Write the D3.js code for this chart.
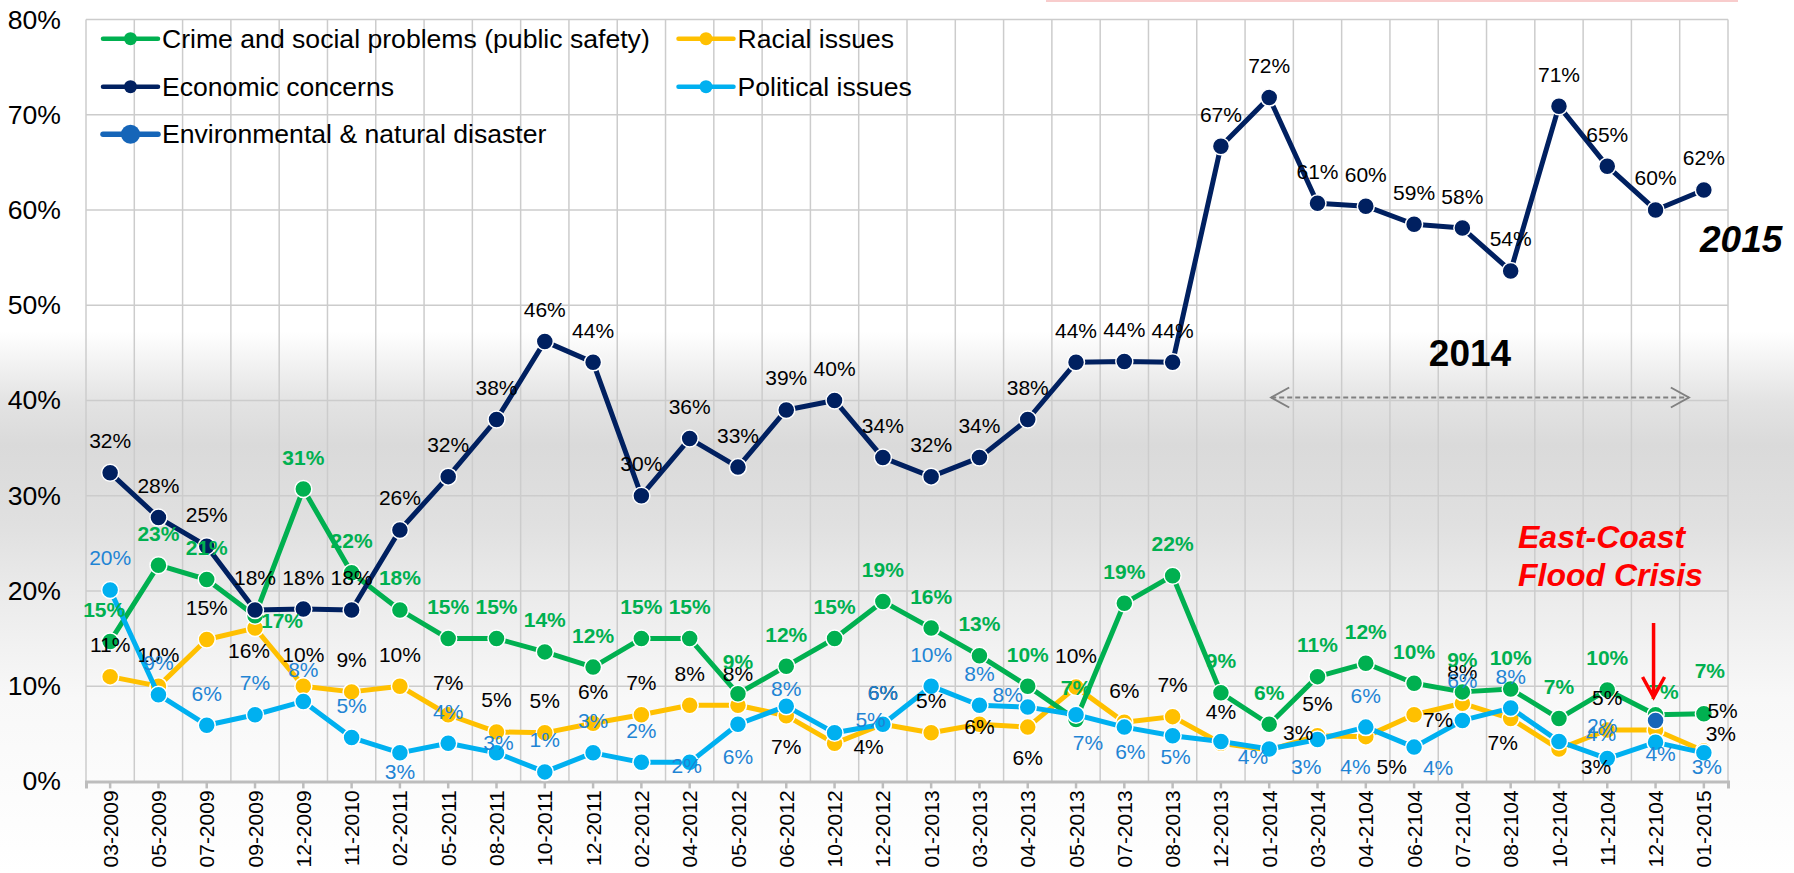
<!DOCTYPE html>
<html>
<head>
<meta charset="utf-8">
<style>
  body { margin: 0; background: #fff; }
  svg { display: block; font-family: "Liberation Sans", Arial, sans-serif; }
</style>
</head>
<body>
<svg id="chart" width="1794" height="873"></svg>

<script src="https://cdn.jsdelivr.net/npm/d3@7"></script>
<script>
  // survey waves
  const categories = ["03-2009", "05-2009", "07-2009", "09-2009", "12-2009", "11-2010", "02-2011", "05-2011",
    "08-2011", "10-2011", "12-2011", "02-2012", "04-2012", "05-2012", "06-2012", "10-2012", "12-2012",
    "01-2013", "03-2013", "04-2013", "05-2013", "07-2013", "08-2013", "12-2013", "01-2014", "03-2014",
    "04-2104", "06-2104", "07-2104", "08-2104", "10-2104", "11-2104", "12-2104", "01-2015"];

  // % of mentions
  const crime = [14.7, 22.7, 21.2, 17.4, 30.7, 21.9, 18, 15, 15, 13.6, 12, 15, 15, 9.2, 12.1, 15, 18.9,
    16.1, 13.2, 10, 6.5, 18.7, 21.6, 9.3, 6, 11, 12.4, 10.3, 9.4, 9.7, 6.6, 9.6, 7, 7.1];
  const economic = [32.4, 27.7, 24.7, 18, 18.1, 18, 26.4, 32, 38, 46.2, 44, 30, 36, 33, 39, 40, 34,
    32, 34, 38, 44, 44.1, 44, 66.7, 71.8, 60.7, 60.4, 58.5, 58.1, 53.6, 70.9, 64.6, 60, 62.1];
  const racial = [11, 10, 14.9, 16.1, 10, 9.4, 10, 7, 5.2, 5.1, 6.1, 7, 8, 8, 6.9, 4, 6,
    5.1, 6, 5.7, 9.9, 6.2, 6.8, 4, 3.3, 4.8, 4.7, 7, 8.2, 6.6, 3.4, 5.4, 5.4, 3.2];
  const political = [20.1, 9.1, 5.9, 7, 8.4, 4.6, 3, 4, 3, 1, 3, 2, 2, 6, 7.9, 5.1, 6,
    10, 8, 7.8, 7, 5.7, 4.8, 4.2, 3.4, 4.4, 5.7, 3.6, 6.4, 7.7, 4.2, 2.4, 4.1, 3];
  const environment = [null, null, null, null, null, null, null, null, null, null, null, null, null,
    null, null, null, null, null, null, null, null, null, null, null, null, null, null, null, null,
    null, null, null, 6.4, null];

  const yTicks = [0, 10, 20, 30, 40, 50, 60, 70, 80];

  // hand-placed data labels (dx, dy from the marker), like the dragged labels in the original
  const nudges = {
    crime: { 0: [-6, -32], 3: [27, 5], 32: [8, -23], 33: [6, -43] },
    racial: { 3: [-6, 22], 14: [0, 31], 15: [34, 3], 18: [0, 2], 19: [0, 30], 24: [29, -17],
      26: [26, 30], 27: [24, 5], 29: [-8, 24], 30: [37, 17], 32: [67, -19], 33: [17, -17] },
    political: { 6: [0, 19], 8: [2, -10], 12: [-3, 3], 13: [0, 32], 14: [0, -18], 15: [36, -13],
      19: [-20, -13], 20: [12, 28], 21: [6, 24], 22: [3, 21], 23: [32, 15], 24: [37, 17],
      25: [38, 27], 27: [24, 20], 28: [0, -40], 30: [42, -8], 31: [-5, -33], 32: [5, 11], 33: [3, 14] },
    economic: {}
  };

  const width = 1794;
  const height = 873;
  const plotLeft = 86, plotRight = 1728, plotTop = 19.5, plotBottom = 781.4;

  const svg = d3.select("#chart");

  // background band
  const grad = svg.append("defs").append("linearGradient")
    .attr("id", "bg").attr("x1", 0).attr("y1", 0).attr("x2", 0).attr("y2", 1);
  [[0, "#ffffff"], [0.38, "#ffffff"], [0.46, "#e3e3e3"], [0.51, "#dadada"], [0.6, "#e0e0e0"],
   [0.69, "#ececec"], [0.8, "#f8f8f8"], [1, "#ffffff"]].forEach(s => {
    grad.append("stop").attr("offset", s[0]).attr("stop-color", s[1]);
  });
  svg.append("rect").attr("width", width).attr("height", height).attr("fill", "url(#bg)");
  svg.append("rect").attr("x", 1046).attr("y", 0).attr("width", 692).attr("height", 2).attr("fill", "#f8cccc");

  const x = d3.scaleBand().domain(categories).range([plotLeft, plotRight]).padding(0);
  const cx = c => x(c) + x.bandwidth() / 2;
  const y = d3.scaleLinear().domain([0, 80]).range([plotBottom, plotTop]);

  // grid
  const grid = svg.append("g").attr("stroke", "#cccccc").attr("stroke-width", 1.5);
  grid.selectAll("line.h")
    .data(yTicks.filter(d => d > 0))
    .join("line")
    .attr("class", "h")
    .attr("x1", plotLeft).attr("x2", plotRight)
    .attr("y1", d => y(d)).attr("y2", d => y(d));
  grid.selectAll("line.v")
    .data(categories.map(c => x(c)).concat([plotRight]))
    .join("line")
    .attr("class", "v")
    .attr("x1", d => d).attr("x2", d => d)
    .attr("y1", plotTop).attr("y2", plotBottom);

  // y axis labels
  const yAxis = svg.append("g")
    .attr("transform", `translate(${plotLeft},0)`)
    .call(d3.axisLeft(y).tickValues(yTicks).tickFormat(d => d + "%").tickSize(0).tickPadding(25));
  yAxis.select(".domain").remove();
  yAxis.selectAll("text").attr("font-size", 26.6).attr("fill", "#000").attr("font-family", null);

  // x axis
  const xAxis = svg.append("g")
    .attr("transform", `translate(0,${plotBottom})`)
    .call(d3.axisBottom(x).tickSize(7).tickSizeOuter(7));
  xAxis.select(".domain").attr("stroke", "#bdbdbd").attr("stroke-width", 3);
  xAxis.selectAll(".tick line").attr("stroke", "#bdbdbd").attr("stroke-width", 2.5);
  xAxis.selectAll(".tick text")
    .attr("font-family", null)
    .attr("font-size", 21)
    .attr("fill", "#000")
    .attr("transform", "rotate(-90)")
    .attr("text-anchor", "end")
    .attr("x", -9)
    .attr("y", 0)
    .attr("dy", "0.36em");

  const series = [
    { key: "racial", name: "Racial issues", values: racial, color: "#FFC000", label: "#000", bold: false },
    { key: "crime", name: "Crime and social problems (public safety)", values: crime, color: "#00B050", label: "#00B050", bold: true },
    { key: "political", name: "Political issues", values: political, color: "#00B0F0", label: "#1F84D4", bold: false },
    { key: "economic", name: "Economic concerns", values: economic, color: "#002060", label: "#000", bold: false },
    { key: "environment", name: "Environmental & natural disaster", values: environment, color: "#1565B8", label: null, bold: false }
  ];

  const line = d3.line()
    .defined(d => d.v != null)
    .x(d => cx(d.c))
    .y(d => y(d.v));

  series.forEach(s => {
    const pts = categories.map((c, i) => ({ c: c, v: s.values[i], i: i }));
    const g = svg.append("g");
    g.append("path")
      .datum(pts)
      .attr("fill", "none")
      .attr("stroke", s.color)
      .attr("stroke-width", 5)
      .attr("stroke-linejoin", "round")
      .attr("d", line);
    g.selectAll("circle")
      .data(pts.filter(d => d.v != null))
      .join("circle")
      .attr("cx", d => cx(d.c))
      .attr("cy", d => y(d.v))
      .attr("r", 8.5)
      .attr("fill", s.color)
      .attr("stroke", "#fff")
      .attr("stroke-width", 1.5);
    s.pts = pts;
  });

  // data labels on top
  const labels = svg.append("g").attr("font-size", 21);
  series.filter(s => s.label).forEach(s => {
    labels.append("g")
      .attr("fill", s.label)
      .attr("font-weight", s.bold ? "bold" : null)
      .selectAll("text")
      .data(s.pts.filter(d => d.v != null))
      .join("text")
      .attr("text-anchor", "middle")
      .attr("dominant-baseline", "central")
      .attr("x", d => cx(d.c) + (nudges[s.key][d.i] || [0, -32])[0])
      .attr("y", d => y(d.v) + (nudges[s.key][d.i] || [0, -32])[1])
      .text(d => Math.round(d.v) + "%");
  });

  // legend
  const legendItems = [
    { s: series[1], x: 103, y: 38.7 },
    { s: series[3], x: 103, y: 86.7 },
    { s: series[4], x: 103, y: 134.3 },
    { s: series[0], x: 678.5, y: 38.7 },
    { s: series[2], x: 678.5, y: 86.7 }
  ];
  const legend = svg.append("g");
  legendItems.forEach(item => {
    const big = item.s.key === "environment";
    const lg = legend.append("g").attr("transform", `translate(${item.x},${item.y})`);
    lg.append("line").attr("x1", 0).attr("x2", 55).attr("y1", 0).attr("y2", 0)
      .attr("stroke", item.s.color).attr("stroke-width", big ? 5.5 : 4.5).attr("stroke-linecap", "round");
    lg.append("circle").attr("cx", 27.5).attr("cy", 0).attr("r", big ? 9.5 : 6.5).attr("fill", item.s.color);
    lg.append("text").attr("x", 59).attr("y", 0).attr("dominant-baseline", "central")
      .attr("font-size", 26.6).attr("fill", "#000").text(item.s.name);
  });

  // 2014 span
  const ann = svg.append("g");
  const ax0 = cx("01-2014") + 2, ax1 = cx("01-2015") - 15, ay = 397.5;
  ann.append("line").attr("x1", ax0).attr("x2", ax1).attr("y1", ay).attr("y2", ay)
    .attr("stroke", "#808080").attr("stroke-width", 2).attr("stroke-dasharray", "5,3");
  ann.append("path")
    .attr("d", `M${ax0 + 18},${ay - 10}L${ax0},${ay}L${ax0 + 18},${ay + 10}M${ax1 - 18},${ay - 10}L${ax1},${ay}L${ax1 - 18},${ay + 10}`)
    .attr("fill", "none").attr("stroke", "#808080").attr("stroke-width", 2);
  ann.append("text").attr("x", 1470).attr("y", 366).attr("text-anchor", "middle")
    .attr("font-size", 37).attr("font-weight", "bold").attr("fill", "#000").text("2014");
  ann.append("text").attr("x", 1700).attr("y", 252)
    .attr("font-size", 37).attr("font-weight", "bold").attr("font-style", "italic").attr("fill", "#000").text("2015");

  // flood crisis callout
  ann.append("text").attr("x", 1518).attr("y", 548)
    .attr("font-size", 32).attr("font-weight", "bold").attr("font-style", "italic").attr("fill", "#ff0000").text("East-Coast");
  ann.append("text").attr("x", 1518).attr("y", 586)
    .attr("font-size", 32).attr("font-weight", "bold").attr("font-style", "italic").attr("fill", "#ff0000").text("Flood Crisis");
  const rx = cx("12-2104") - 2;
  ann.append("path")
    .attr("d", `M${rx},623L${rx},696M${rx - 11},677L${rx},697L${rx + 11},677`)
    .attr("fill", "none").attr("stroke", "#ff0000").attr("stroke-width", 3.5);
</script>
</body>
</html>
